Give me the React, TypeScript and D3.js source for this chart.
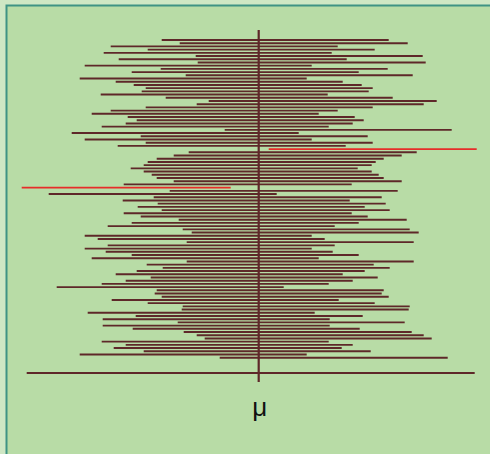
import React from "react";
import * as d3 from "d3";

// Confidence intervals (units relative to μ = 0)
const lower = [
  -9.7, -7.9, -14.8, -11.1, -15.5, -6.3, -14.0, -6.1, -17.4, -9.8,
  -12.7, -7.3, -17.9, -14.3, -12.5, -11.3, -11.7, -15.8, -9.3, -5.0,
  -6.2, -11.3, -14.8, -16.7, -13.1, -12.2, -13.3, -15.7, -3.4, -18.7,
  -11.8, -17.4, -11.3, -14.1, 1.0, -7.0, -8.5, -10.2, -11.1, -11.5,
  -12.8, -11.5, -10.7, -10.2, -8.5, -13.5, -23.7, -8.9, -21.0, -10.5,
  -13.6, -10.1, -12.1, -9.7, -13.5, -11.8, -8.0, -12.7, -15.1, -7.6,
  -6.7, -17.4, -16.1, -7.2, -15.1, -17.4, -15.3, -12.7, -16.7, -7.2,
  -11.2, -9.6, -12.2, -14.3, -10.8, -13.3, -15.7, -20.2, -10.2, -10.4,
  -9.7, -14.7, -11.1, -7.6, -7.7, -17.1, -12.3, -15.6, -8.1, -15.6,
  -12.6, -7.5, -6.2, -5.4, -15.7, -13.3, -14.5, -11.5, -17.9, -3.9,
];
const upper = [
  13.0, 14.9, 7.9, 11.6, 7.3, 16.4, 8.8, 16.7, 5.3, 12.9,
  10.0, 15.4, 4.8, 8.4, 10.3, 11.4, 11.0, 6.9, 13.4, 17.8,
  16.5, 11.4, 7.9, 6.0, 9.6, 10.5, 9.4, 7.0, 19.3, 4.0,
  10.9, 5.3, 11.4, 8.7, 21.8, 15.8, 14.3, 12.5, 11.7, 11.3,
  9.9, 11.3, 12.0, 12.5, 14.3, 9.3, -2.8, 13.9, 1.8, 12.3,
  9.1, 12.7, 10.6, 13.1, 9.3, 10.9, 14.8, 10.0, 7.6, 15.1,
  16.0, 5.3, 6.6, 15.5, 7.6, 5.3, 7.4, 10.0, 6.0, 15.5,
  11.5, 13.1, 10.6, 8.4, 11.9, 9.4, 7.0, 2.5, 12.5, 12.3,
  13.0, 8.0, 11.6, 15.1, 15.0, 5.6, 10.4, 7.1, 14.6, 7.1,
  10.1, 15.3, 16.5, 17.3, 7.0, 9.4, 8.3, 11.2, 4.8, 18.9,
];
const mu = 0;
const baseRange = [-23.2, 21.6];
const muLabel = "μ";

export default function App() {
  const W = 490, H = 454;
  const x = d3.scaleLinear().domain([-25, 25]).range([8.7, 508.7]);
  const idx = lower.map((_, i) => i);
  const y = d3.scalePoint<number>().domain(idx).range([40, 357.7]);
  const lineColor = "#5e2829";
  const missColor = "#e62d29";

  return (
    <svg width={W} height={H} style={{ position: "fixed", left: 0, top: 0 }}>
      <rect x={0} y={0} width={W} height={H} fill="#cfe7c4" />
      <rect x={5.5} y={4.5} width={W} height={H} fill="#3f9384" />
      <rect x={7.5} y={6.5} width={W} height={H} fill="#b8dca6" />
      {idx.map((i) => {
        const miss = lower[i] > mu || upper[i] < mu;
        return (
          <line
            key={i}
            x1={x(lower[i])}
            x2={x(upper[i])}
            y1={y(i)}
            y2={y(i)}
            stroke={miss ? missColor : lineColor}
            strokeWidth={1.9}
          />
        );
      })}
      <line
        x1={x(baseRange[0])}
        x2={x(baseRange[1])}
        y1={373}
        y2={373}
        stroke={lineColor}
        strokeWidth={1.8}
      />
      <line
        x1={x(mu)}
        x2={x(mu)}
        y1={30}
        y2={382}
        stroke={lineColor}
        strokeWidth={2.2}
      />
      <text
        x={x(mu) + 1}
        y={416}
        textAnchor="middle"
        fontFamily="Liberation Sans, Arial, sans-serif"
        fontSize={26}
        fill="#111"
      >
        {muLabel}
      </text>
    </svg>
  );
}
